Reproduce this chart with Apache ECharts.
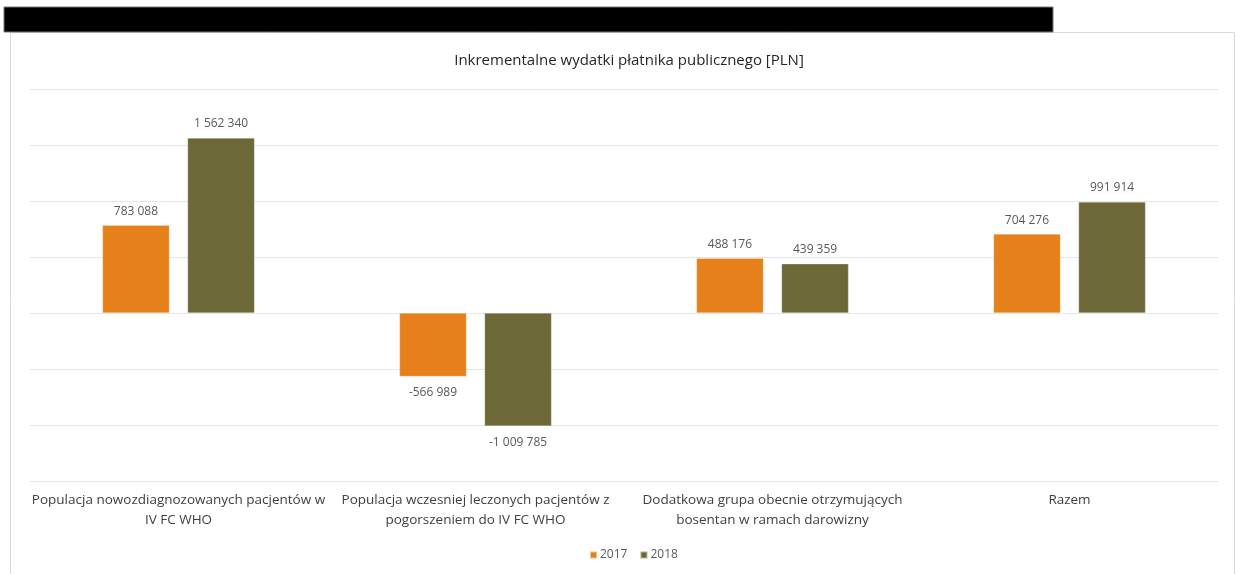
<!DOCTYPE html>
<html>
<head>
<meta charset="utf-8">
<script src="https://cdn.jsdelivr.net/npm/echarts@6/dist/echarts.min.js"></script>
<style>
html,body{margin:0;padding:0;background:#fff;}
#chart{width:1236px;height:574px;}
</style>
</head>
<body>
<div id="chart"></div>
<script>
const titleText = 'Inkrementalne wydatki płatnika publicznego [PLN]';
const categories = [
  'Populacja nowozdiagnozowanych pacjentów w\nIV FC WHO',
  'Populacja wczesniej leczonych pacjentów z\npogorszeniem do IV FC WHO',
  'Dodatkowa grupa obecnie otrzymujących\nbosentan w ramach darowizny',
  'Razem'
];
const seriesNames = ['2017', '2018'];
const values2017 = [783088, -566989, 488176, 704276];
const values2018 = [1562340, -1009785, 439359, 991914];
const colors = ['#E5801A', '#6D6837'];

const FONT = 'Open Sans';
function fmt(v) {
  const s = Math.abs(Math.round(v)).toString().replace(/\B(?=(\d{3})+(?!\d))/g, ' ');
  return (v < 0 ? '-' : '') + s;
}
function buildData(arr) {
  return arr.map(v => ({
    value: v,
    label: v < 0 ? {position: 'bottom', distance: 10} : {position: 'top', distance: 8}
  }));
}
const allValues = [values2017, values2018];

const chart = echarts.init(document.getElementById('chart'), null, {renderer: 'canvas'});
chart.setOption({
  animation: false,
  backgroundColor: '#fff',
  title: {
    text: titleText,
    left: 624,
    textAlign: 'center',
    top: 48,
    textStyle: {fontFamily: FONT, fontSize: 15, fontWeight: 'normal', color: '#262626'}
  },
  legend: {
    data: seriesNames,
    left: 584,
    top: 544,
    itemWidth: 7,
    itemHeight: 7,
    itemGap: 12,
    icon: 'rect',
    textStyle: {fontFamily: FONT, fontSize: 12, color: '#595959', padding: [0, 0, 0, -2]}
  },
  grid: {left: 30, right: 18, top: 89, bottom: 93, containLabel: false},
  xAxis: {
    type: 'category',
    data: categories,
    axisLine: {show: false, onZero: false},
    axisTick: {show: false},
    axisLabel: {
      fontFamily: FONT, fontSize: 13.5, color: '#404040', lineHeight: 20, margin: 9, interval: 0
    }
  },
  yAxis: {
    type: 'value',
    min: -1500000,
    max: 2000000,
    interval: 500000,
    axisLabel: {show: false},
    axisLine: {show: false},
    axisTick: {show: false},
    splitLine: {lineStyle: {color: '#e6e6e6', width: 1}}
  },
  graphic: [
    {type: 'rect', shape: {x: 10.5, y: 32.5, width: 1224, height: 560}, style: {fill: 'none', stroke: '#d9d9d9', lineWidth: 1}, z: -1},
    {type: 'rect', shape: {x: 4, y: 7, width: 1049, height: 25}, style: {fill: '#000', stroke: '#777', lineWidth: 1}, z: 10}
  ],
  series: seriesNames.map((name, i) => ({
    name: name,
    type: 'bar',
    data: buildData(allValues[i]),
    barWidth: 67,
    barGap: '27%',
    itemStyle: {color: colors[i], borderColor: 'rgba(255,255,255,0.5)', borderWidth: 0.5},
    label: {
      show: true,
      fontFamily: FONT,
      fontSize: 12,
      color: '#595959',
      formatter: p => fmt(p.value)
    }
  }))
});
</script>
</body>
</html>
